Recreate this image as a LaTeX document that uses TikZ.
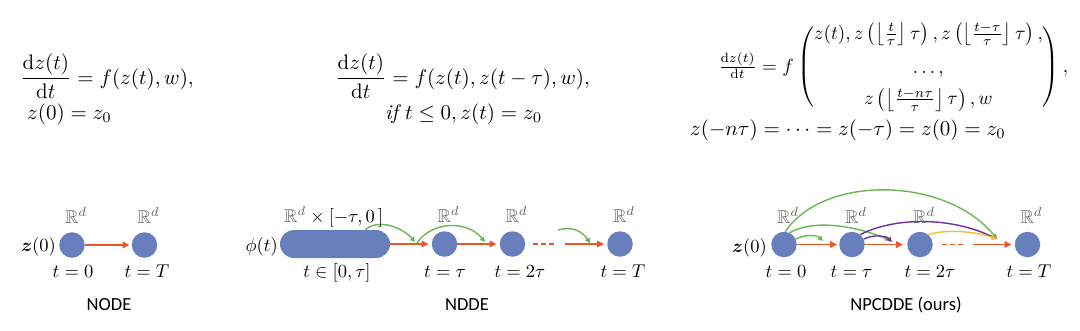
\documentclass[tikz,border=0pt]{standalone}
\usepackage{amsmath,amssymb,bm}
\usepackage{fontspec}
\setsansfont{Carlito}
\usetikzlibrary{arrows.meta,calc}
\definecolor{blueC}{RGB}{103,128,189}
\definecolor{redC}{RGB}{235,85,40}
\definecolor{greenC}{RGB}{104,183,82}
\definecolor{purpleC}{RGB}{112,48,160}
\definecolor{yellowC}{RGB}{240,190,50}
\definecolor{rgray}{RGB}{100,100,100}
\newcommand{\mlab}[1]{\scalebox{1.85}{$#1$}}
\newcommand{\meq}[1]{\scalebox{2.1}{$#1$}}
\begin{document}
\begin{tikzpicture}[x=1pt,y=-1pt,
  dot/.style={circle,fill=blueC,minimum size=25.5pt,inner sep=0pt},
  bar/.style={rectangle,fill=blueC,rounded corners=14pt,minimum width=110pt,minimum height=28pt,inner sep=0pt},
  redarr/.style={draw=redC,line width=1.6pt,-{Triangle[length=7pt,width=6.5pt]}},
  reddash/.style={draw=redC,line width=1.6pt,dash pattern=on 5pt off 3pt},
  garr/.style={draw=greenC,line width=1.4pt,-{Triangle[length=5pt,width=5pt]}},
  parr/.style={draw=purpleC,line width=1.4pt,-{Triangle[length=5pt,width=5pt]}},
  yarr/.style={draw=yellowC,line width=1.4pt,-{Triangle[length=5pt,width=5pt]}},
  lab/.style={inner sep=0pt,anchor=base},
  rlab/.style={lab,text=rgray},
  captxt/.style={font=\sffamily\fontsize{18.5}{22}\selectfont,inner sep=0pt,anchor=base},
  eq/.style={inner sep=0pt,anchor=base west}]
\useasboundingbox (0,0) rectangle (1080,330);

% ---------- equations ----------
\node[eq] (e1a) at (20,84) {\meq{\displaystyle\frac{\mathrm{d}z(t)}{\mathrm{d}t} = f(z(t),w),}};
\node[eq] (e1b) at (27,119) {\meq{z(0) = z_0}};
\node[eq] (e2a) at (335,84) {\meq{\displaystyle\frac{\mathrm{d}z(t)}{\mathrm{d}t} = f(z(t),z(t-\tau),w),}};
\node[eq] (e2b) at (385,119) {\meq{\mathit{if}\ t \le 0, z(t) = z_0}};
\node[eq] (e3a) at (718,72) {\resizebox{350pt}{!}{$\tfrac{\mathrm{d}z(t)}{\mathrm{d}t} = f\left(\begin{array}{@{}c@{}} z(t), z\left(\left\lfloor\frac{t}{\tau}\right\rfloor\tau\right), z\left(\left\lfloor\frac{t-\tau}{\tau}\right\rfloor\tau\right),\\[6pt] \dots,\\[4pt] z\left(\left\lfloor\frac{t-n\tau}{\tau}\right\rfloor\tau\right), w\end{array}\right),$}};
\node[eq] (e3b) at (690,135) {\meq{z(-n\tau) = \cdots = z(-\tau) = z(0) = z_0}};

% ---------- NODE ----------
\node[dot] (a0) at (72,245) {};
\node[dot] (aT) at (144.5,245) {};
\draw[redarr,shorten >=2pt] (a0) -- (aT);
\node[lab,anchor=base east] (az) at (56,251) {\mlab{\boldsymbol{z}(0)}};
\node[rlab] (ar0) at (76,223) {\mlab{\mathbb{R}^d}};
\node[rlab] (arT) at (148.5,223) {\mlab{\mathbb{R}^d}};
\node[lab] (at0) at (73,277) {\mlab{t=0}};
\node[lab] (atT) at (147,277) {\mlab{t=T}};
\node[captxt] (acap) at (109,310) {NODE};

% ---------- NDDE ----------
\node[bar] (bb) at (335,244) {};
\node[dot] (btau) at (444.5,244) {};
\node[dot] (b2tau) at (512.5,244) {};
\node[dot] (bT) at (620,244) {};
\coordinate (bd1) at (533,244);
\coordinate (bd2) at (557,244);
\coordinate (bd3) at (565,244);
\draw[redarr,shorten >=3pt] (bb) -- (btau);
\draw[redarr,shorten >=3pt] (btau) -- (b2tau);
\draw[reddash] (bd1) -- (bd2);
\draw[redarr,shorten >=3pt] (bd3) -- (bT);
\coordinate (bg1e) at (415,242);
\coordinate (bg2s) at (417,243);
\coordinate (bg2e) at (485,242);
\coordinate (bg3s) at (558,230);
\coordinate (bg3e) at (590,243);
\draw[garr] ([xshift=-25pt]bb.north east) .. controls +(14,-12) and +(-12,-14) .. (bg1e);
\draw[garr] (bg2s) .. controls +(15,-22) and +(-18,-22) .. (bg2e);
\draw[garr] (bg3s) .. controls +(14,-4) and +(-8,-12) .. (bg3e);
\node[lab,anchor=base east] (bphi) at (278,251) {\mlab{\phi(t)}};
\node[lab,anchor=base west] (brr) at (284,222) {\mlab{{\color{rgray}\mathbb{R}^d}\times[-\tau,0\,]}};
\node[rlab] (brtau) at (448.5,222) {\mlab{\mathbb{R}^d}};
\node[rlab] (br2tau) at (516.5,222) {\mlab{\mathbb{R}^d}};
\node[rlab] (brT) at (624,222) {\mlab{\mathbb{R}^d}};
\node[lab] (bt0) at (337,277) {\mlab{t\in[0,\tau]}};
\node[lab] (bttau) at (445,277) {\mlab{t=\tau}};
\node[lab] (bt2tau) at (520,277) {\mlab{t=2\tau}};
\node[lab] (btT) at (623,277) {\mlab{t=T}};
\node[captxt] (bcap) at (467,310) {NDDE};

% ---------- NPCDDE ----------
\node[dot] (c0) at (784,244.5) {};
\node[dot] (ctau) at (852,244.5) {};
\node[dot] (c2tau) at (920,244.5) {};
\node[dot] (cT) at (1027.5,244.5) {};
\coordinate (cd1) at (942,244.5);
\coordinate (cd2) at (964,244.5);
\coordinate (cd3) at (973,244.5);
\draw[redarr,shorten >=2pt] (c0) -- (ctau);
\draw[redarr,shorten >=4pt] (ctau) -- (c2tau);
\draw[reddash] (cd1) -- (cd2);
\draw[redarr,shorten >=3pt] (cd3) -- (cT);
\coordinate (cg1e) at (823,241);
\coordinate (cg2e) at (890,240);
\coordinate (cp1e) at (892,242);
\coordinate (conv) at (997,239);
\draw[garr] (c0.85) .. controls +(40,-58) and +(-50,-62) .. (conv);
\draw[garr] (c0.65) .. controls +(25,-14) and +(-35,-14) .. (cg2e);
\draw[garr] (c0.25) .. controls +(10,-5) and +(-6,-6) .. (cg1e);
\draw[parr] (ctau.50) .. controls +(35,-18) and +(-45,-22) .. (conv);
\draw[parr] (ctau.25) .. controls +(10,-5) and +(-6,-6) .. (cp1e);
\draw[yarr] (c2tau.50) .. controls +(20,-6) and +(-20,-7) .. (conv);
\node[lab,anchor=base east] (cz) at (767,252) {\mlab{\boldsymbol{z}(0)}};
\node[rlab] (cr0) at (788,223) {\mlab{\mathbb{R}^d}};
\node[rlab] (crtau) at (856,223) {\mlab{\mathbb{R}^d}};
\node[rlab] (cr2tau) at (924,223) {\mlab{\mathbb{R}^d}};
\node[rlab] (crT) at (1031.5,223) {\mlab{\mathbb{R}^d}};
\node[lab] (ct0) at (786,277) {\mlab{t=0}};
\node[lab] (cttau) at (851.5,277) {\mlab{t=\tau}};
\node[lab] (ct2tau) at (930,277) {\mlab{t=2\tau}};
\node[lab] (ctT) at (1029,277) {\mlab{t=T}};
\node[captxt] (ccap) at (906,310) {NPCDDE (ours)};
\end{tikzpicture}
\end{document}
